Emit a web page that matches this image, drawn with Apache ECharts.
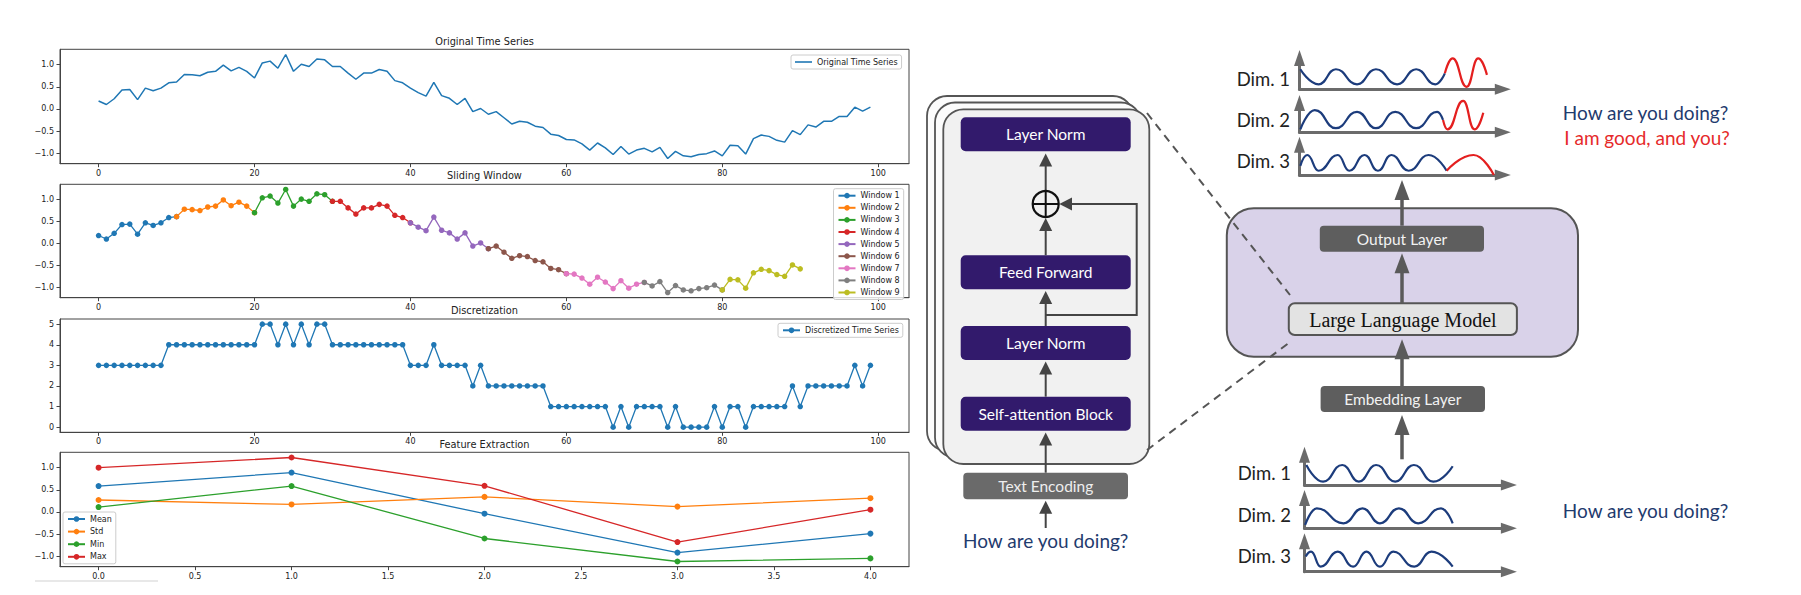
<!DOCTYPE html>
<html><head><meta charset="utf-8">
<script src="https://cdn.jsdelivr.net/npm/echarts@6.0.0/dist/echarts.min.js"></script>
<style>html,body{margin:0;padding:0;background:#fff}#c{width:1801px;height:595px}</style>
</head><body><div id="c"></div>
<script>
// ---------------- data ----------------
const timeSeries = [
  0.18,0.10,0.23,0.43,0.44,0.21,0.47,0.41,0.47,0.59,
  0.61,0.78,0.77,0.75,0.83,0.85,0.99,0.86,0.94,0.85,
  0.70,1.04,1.08,0.92,1.23,0.85,1.01,0.96,1.13,1.11,
  0.96,0.96,0.81,0.67,0.81,0.81,0.89,0.85,0.64,0.59,
  0.47,0.37,0.29,0.60,0.30,0.24,0.10,0.24,-0.06,0.01,
  -0.12,-0.06,-0.20,-0.34,-0.28,-0.30,-0.39,-0.42,-0.57,-0.60,
  -0.69,-0.70,-0.79,-0.93,-0.77,-0.88,-1.03,-0.85,-1.02,-0.93,
  -0.89,-0.97,-0.87,-1.12,-0.96,-1.06,-1.08,-1.03,-1.01,-0.95,
  -1.06,-0.82,-0.83,-1.02,-0.67,-0.59,-0.62,-0.71,-0.75,-0.49,
  -0.58,-0.36,-0.41,-0.28,-0.28,-0.17,-0.17,0.04,-0.05,0.04
];
const discretized = [
  3,3,3,3,3,3,3,3,3,4,
  4,4,4,4,4,4,4,4,4,4,
  4,5,5,4,5,4,5,4,5,5,
  4,4,4,4,4,4,4,4,4,4,
  3,3,3,4,3,3,3,3,2,3,
  2,2,2,2,2,2,2,2,1,1,
  1,1,1,1,1,1,0,1,0,1,
  1,1,1,0,1,0,0,0,0,1,
  0,1,1,0,1,1,1,1,1,2,
  1,2,2,2,2,2,2,3,2,3
];
const windowNames = ['Window 1','Window 2','Window 3','Window 4','Window 5','Window 6','Window 7','Window 8','Window 9'];
const featureX = [0,1,2,3,4];
const featureMean = [0.585,0.89,-0.04,-0.92,-0.49];
const featureStd  = [0.27,0.17,0.34,0.12,0.31];
const featureMin  = [0.11,0.585,-0.60,-1.12,-1.05];
const featureMax  = [1.00,1.23,0.59,-0.68,0.05];
const seriesXTicks = [0,20,40,60,80,100];
const valueYTicks = [-1.0,-0.5,0.0,0.5,1.0];
const discYTicks = [0,1,2,3,4,5];
const featureXTicks = [0,0.5,1,1.5,2,2.5,3,3.5,4];

// diagram waves (x: 0-100 along axis, y: 0-1 of axis height)
const outDim1Blue = [[0.4,0.64],[9.4,0.16],[17.9,0.64],[28.3,0.16],[37.6,0.64],[48,0.16],[57.4,0.64],[66.8,0.16],[71.5,0.51]];
const outDim1Red  = [[71.5,0.51],[75.3,0.99],[82.2,0.08],[87.9,0.99],[92.2,0.46]];
const outDim2Blue = [[0.4,0.10],[7.5,0.76],[17.9,0.14],[28.3,0.70],[37.6,0.14],[47.1,0.70],[57.4,0.14],[67.7,0.70],[70.6,0.42]];
const outDim2Red  = [[70.6,0.42],[72.8,0.10],[80.5,1.07],[86.1,0.10],[90.4,0.67]];
const outDim3Blue = [[0.4,0.30],[3.8,0.66],[9.4,0.14],[18.8,0.66],[24.5,0.14],[32,0.66],[38.6,0.14],[45.2,0.66],[53.7,0.14],[63.5,0.66],[72.4,0.14]];
const outDim3Red  = [[72.4,0.14],[85.6,0.66],[95.6,0.0]];
const inDim1 = [[0.9,0.66],[9.1,0.11],[18.5,0.66],[26.6,0.11],[35,0.66],[44.4,0.11],[53.5,0.66],[63,0.11],[72.5,0.62]];
const inDim2 = [[0.3,0.11],[6,0.66],[19.1,0.165],[28.4,0.66],[36.9,0.165],[46.2,0.66],[55.6,0.165],[66.8,0.66],[72.5,0.165]];
const inDim3 = [[0.6,0.5],[3.2,0.66],[7.9,0.165],[16.3,0.66],[23.8,0.165],[30.3,0.66],[36.9,0.165],[43.4,0.66],[53.7,0.165],[62.1,0.66],[72.5,0.165]];

// ---------------- styling ----------------
const tab10 = ['#1f77b4','#ff7f0e','#2ca02c','#d62728','#9467bd','#8c564b','#e377c2','#7f7f7f','#bcbd22'];
const MPL = 'DejaVu Sans';
const fmtNum = v => (v < 0 ? '\u2212' : '') + Math.abs(v).toFixed(1);

const plotGrids = [
  {left:60, top:49.3, width:849, height:114.4},
  {left:60, top:184.3, width:849, height:113.4},
  {left:60, top:319, width:849, height:113.3},
  {left:60, top:452.3, width:849, height:114.4}
].map(g => Object.assign(g, {show:true, borderColor:'#444', borderWidth:1, backgroundColor:'#fff', containLabel:false}));

const miniGrids = [
  {left:1299.5, top:58, width:203.3, height:31.3},
  {left:1299.5, top:103, width:203.3, height:29.3},
  {left:1299.5, top:144.7, width:203.3, height:30.3},
  {left:1304.5, top:454.7, width:204.4, height:30.3},
  {left:1304.5, top:498, width:204.4, height:30.3},
  {left:1304.5, top:541.3, width:204.4, height:30.4}
];

function mplX(grid, min, max, ticks, fmt) {
  return {type:'value', gridIndex:grid, min, max,
    axisLine:{show:true, onZero:false, lineStyle:{color:'#444', width:1}},
    axisTick:{show:true, inside:false, length:3.5, lineStyle:{color:'#444'}, customValues:ticks},
    axisLabel:{show:true, margin:5.5, fontSize:8, fontFamily:MPL, color:'#222', customValues:ticks, formatter:fmt},
    splitLine:{show:false}};
}
function mplY(grid, min, max, ticks, fmt) {
  return {type:'value', gridIndex:grid, min, max,
    axisLine:{show:true, onZero:false, lineStyle:{color:'#444', width:1}},
    axisTick:{show:true, inside:false, length:3.5, lineStyle:{color:'#444'}, customValues:ticks},
    axisLabel:{show:true, margin:6, fontSize:8, fontFamily:MPL, color:'#222', customValues:ticks, formatter:fmt},
    splitLine:{show:false}};
}
const xAxes = [
  mplX(0,-4.95,103.95,seriesXTicks,v=>String(v)),
  mplX(1,-4.95,103.95,seriesXTicks,v=>String(v)),
  mplX(2,-4.95,103.95,seriesXTicks,v=>String(v)),
  mplX(3,-0.2,4.2,featureXTicks,v=>v.toFixed(1))
];
const yAxes = [
  mplY(0,-1.2375,1.3475,valueYTicks,fmtNum),
  mplY(1,-1.2375,1.3475,valueYTicks,fmtNum),
  mplY(2,-0.25,5.25,discYTicks,v=>String(v)),
  mplY(3,-1.2375,1.3475,valueYTicks,fmtNum)
];
miniGrids.forEach((g,i) => {
  const gi = 4 + i;
  const axisLine = {show:true, onZero:false, symbol:['none','triangle'], symbolSize:[11,16], lineStyle:{color:'#6b6b6b', width:3}};
  xAxes.push({type:'value', gridIndex:gi, min:0, max:100, axisLine, axisTick:{show:false}, axisLabel:{show:false}, splitLine:{show:false}});
  yAxes.push({type:'value', gridIndex:gi, min:0, max:1, axisLine, axisTick:{show:false}, axisLabel:{show:false}, splitLine:{show:false}});
});

const series = [];
series.push({type:'line', name:'Original Time Series', xAxisIndex:0, yAxisIndex:0,
  data: timeSeries.map((v,i)=>[i,v]), symbol:'none', lineStyle:{color:tab10[0], width:1.5}, itemStyle:{color:tab10[0]}});
windowNames.forEach((n,k) => {
  series.push({type:'line', name:n, xAxisIndex:1, yAxisIndex:1,
    data: timeSeries.slice(10*k, 10*k+11).map((v,j)=>[10*k+j, v]),
    symbol:'circle', symbolSize:5.5, lineStyle:{color:tab10[k], width:1.3}, itemStyle:{color:tab10[k]}});
});
series.push({type:'line', name:'Discretized Time Series', xAxisIndex:2, yAxisIndex:2,
  data: discretized.map((v,i)=>[i,v]), symbol:'circle', symbolSize:5.5, lineStyle:{color:tab10[0], width:1.3}, itemStyle:{color:tab10[0]}});
[['Mean',featureMean],['Std',featureStd],['Min',featureMin],['Max',featureMax]].forEach(([n,arr],k)=>{
  series.push({type:'line', name:n, xAxisIndex:3, yAxisIndex:3,
    data: featureX.map((x,i)=>[x, arr[i]]), symbol:'circle', symbolSize:6, lineStyle:{color:tab10[k], width:1.3}, itemStyle:{color:tab10[k]}});
});
const BLUE = '#1c3c7c', RED = '#e41f1f';
[[outDim1Blue,BLUE,4],[outDim1Red,RED,4],[outDim2Blue,BLUE,5],[outDim2Red,RED,5],[outDim3Blue,BLUE,6],[outDim3Red,RED,6],
 [inDim1,BLUE,7],[inDim2,BLUE,8],[inDim3,BLUE,9]].forEach(([d,c,gi])=>{
  series.push({type:'line', xAxisIndex:gi, yAxisIndex:gi, data:d, smooth:0.5, smoothMonotone:'x', clip:false,
    symbol:'none', lineStyle:{color:c, width:2.2}, silent:true, z:3});
});

function mplLegend(names, left, top, gap) {
  return {data:names, left, top, orient:'vertical', itemWidth:17, itemHeight:7, itemGap:gap,
    padding:[3,4,3,4], backgroundColor:'rgba(255,255,255,0.8)', borderColor:'#cccccc', borderWidth:1, borderRadius:2,
    textStyle:{fontSize:8, fontFamily:MPL, color:'#222'}, selectedMode:false, z:20};
}
const legend0 = mplLegend([{name:'Original Time Series', icon:'rect'}], 791, 55, 4);
legend0.itemHeight = 1.6;
const legends = [
  legend0,
  mplLegend(windowNames, 833.5, 188.7, 4.1),
  mplLegend(['Discretized Time Series'], 778, 323.3, 4),
  mplLegend(['Mean','Std','Min','Max'], 63, 512, 4.6)
];

// ---------------- diagram graphics ----------------
const G = [];
function txt(x, y, text, size, family, color, align) {
  G.push({type:'text', x, y, z:20, style:{text, fill:color, fontSize:size, fontFamily:family,
    textAlign:align||'center', textVerticalAlign:'middle', align:align||'center', verticalAlign:'middle'}});
}
function rect(x, y, w, h, r, fill, stroke, lw, z) {
  G.push({type:'rect', z:z||10, shape:{x, y, width:w, height:h, r}, style:{fill, stroke:stroke||null, lineWidth:lw||0}});
}
function vArrow(x, yFrom, yTip, hw, hh, lw, color) {
  G.push({type:'line', z:12, shape:{x1:x, y1:yFrom, x2:x, y2:yTip+hh-1}, style:{stroke:color, lineWidth:lw}});
  G.push({type:'polygon', z:12, shape:{points:[[x,yTip],[x-hw/2,yTip+hh],[x+hw/2,yTip+hh]]}, style:{fill:color}});
}
// matplotlib titles
txt(484.5, 41, 'Original Time Series', 9.8, MPL, '#222');
txt(484.5, 175.7, 'Sliding Window', 9.8, MPL, '#222');
txt(484.5, 310, 'Discretization', 9.8, MPL, '#222');
txt(484.5, 444.3, 'Feature Extraction', 9.8, MPL, '#222');
rect(35, 580, 123, 2, 0, '#e8e8e8', null, 0, 5);

// transformer block stack
const FONT = 'Lato';
rect(927, 96, 206, 355, 20, '#fcfcfc', '#555', 1.8, 8);
rect(935, 102.5, 206, 355, 20, '#fcfcfc', '#555', 1.8, 9);
rect(943.3, 109.3, 206, 354.7, 20, '#f1f1f1', '#555', 1.8, 10);
const PURPLE = '#321a6c';
[[117.3,'Layer Norm'],[255.3,'Feed Forward'],[326,'Layer Norm'],[396.7,'Self-attention Block']].forEach(([y,t])=>{
  rect(960.7, y, 170, 34, 5, PURPLE, null, 0, 11);
  txt(1045.7, y+17, t, 15.5, FONT, '#ffffff');
});
rect(963.3, 472.7, 164.7, 26.6, 4, '#6a6a6a', null, 0, 11);
txt(1045.7, 486, 'Text Encoding', 15.5, FONT, '#eeeeee');
const AC = '#444';
vArrow(1045.7, 528, 500.7, 13, 13, 2, AC);
vArrow(1045.7, 472.7, 432.5, 13, 13, 2, AC);
vArrow(1045.7, 396.7, 361.5, 13, 13, 2, AC);
vArrow(1045.7, 326, 291, 13, 13, 2, AC);
vArrow(1045.7, 255.3, 218, 13, 13, 2, AC);
vArrow(1045.7, 190.7, 153.5, 13, 13, 2, AC);
G.push({type:'polyline', z:12, shape:{points:[[1045.7,315],[1136.7,315],[1136.7,204],[1071,204]]}, style:{stroke:AC, lineWidth:2, fill:null}});
G.push({type:'polygon', z:12, shape:{points:[[1059.3,204],[1072,197.5],[1072,210.5]]}, style:{fill:AC}});
G.push({type:'circle', z:13, shape:{cx:1045.7, cy:204, r:13}, style:{fill:'#f1f1f1', stroke:'#111', lineWidth:2.2}});
G.push({type:'line', z:14, shape:{x1:1032.7, y1:204, x2:1058.7, y2:204}, style:{stroke:'#111', lineWidth:2}});
G.push({type:'line', z:14, shape:{x1:1045.7, y1:191, x2:1045.7, y2:217}, style:{stroke:'#111', lineWidth:2}});
txt(1045.7, 540.7, 'How are you doing?', 19, FONT, '#1f3b6e');

// LLM block
rect(1226.8, 208.3, 351.2, 148.4, 27, '#d9d2e9', '#555', 2, 8);
rect(1319.8, 225.7, 164.2, 26, 4, '#5e5e5e', null, 0, 11);
txt(1402, 239, 'Output Layer', 15.5, FONT, '#f2f2f2');
rect(1288.8, 303.3, 228.1, 31.7, 6, '#e3e3e3', '#555', 2, 11);
txt(1402.9, 320, 'Large Language Model', 20, 'Liberation Serif', '#111');
rect(1320.6, 386, 164.4, 26, 4, '#5e5e5e', null, 0, 11);
txt(1402.8, 399, 'Embedding Layer', 15.5, FONT, '#f2f2f2');
const AR = '#5a5a5a';
vArrow(1402, 225.7, 180, 15, 20, 3.5, AR);
vArrow(1402, 303.3, 253.3, 15, 20, 3.5, AR);
vArrow(1402, 386, 339.3, 15, 20, 3.5, AR);
vArrow(1402, 459.3, 415, 15, 20, 3.5, AR);
// dashed connectors
G.push({type:'line', z:15, shape:{x1:1147, y1:113, x2:1290, y2:295}, style:{stroke:'#555', lineWidth:2, lineDash:[8,6]}});
G.push({type:'line', z:15, shape:{x1:1147, y1:450, x2:1290, y2:342}, style:{stroke:'#555', lineWidth:2, lineDash:[8,6]}});
// labels
[['Dim. 1',1290,79],['Dim. 2',1290,120],['Dim. 3',1290,160.7],['Dim. 1',1291,473.3],['Dim. 2',1291,515],['Dim. 3',1291,556]].forEach(([t,x,y])=>{
  txt(x, y, t, 18.5, FONT, '#222', 'right');
});
txt(1645.5, 112.3, 'How are you doing?', 19, FONT, '#1f3b6e');
txt(1647, 137.3, 'I am good, and you?', 19, FONT, '#e62a2a');
txt(1645.5, 510.7, 'How are you doing?', 19, FONT, '#1f3b6e');

const chart = echarts.init(document.getElementById('c'), null, {renderer:'svg', width:1801, height:595});
chart.setOption({
  animation:false,
  backgroundColor:'#ffffff',
  grid: plotGrids.concat(miniGrids),
  xAxis: xAxes,
  yAxis: yAxes,
  legend: legends,
  series,
  graphic: {elements: G}
});
</script>
</body></html>
